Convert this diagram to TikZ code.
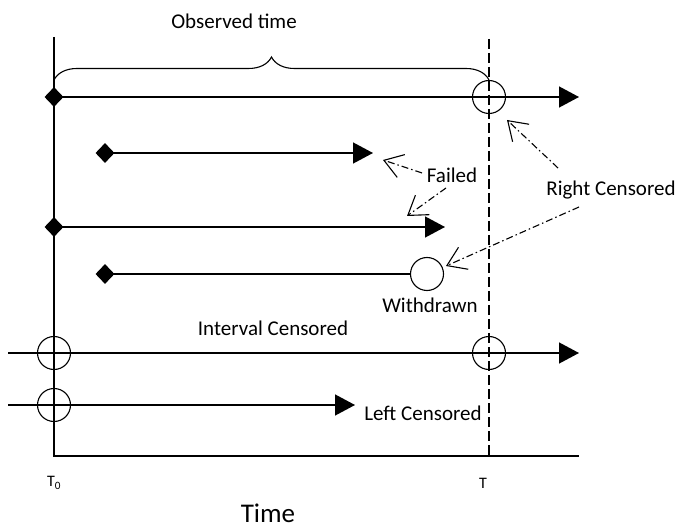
\documentclass[tikz,border=0pt]{standalone}
\usepackage{fontspec}
\setmainfont{Carlito}
\usetikzlibrary{arrows.meta,decorations.pathreplacing,shapes.geometric}
\begin{document}
\begin{tikzpicture}[x=1pt,y=-1pt,
  dia/.style={diamond,fill=black,inner sep=0pt,minimum width=19pt,minimum height=20pt},
  ring/.style={circle,draw,line width=1.1pt,minimum size=33pt,inner sep=0pt},
  lifeline/.style={line width=1.4pt,-{Triangle[length=20pt,width=21pt]}},
  axisline/.style={line width=1.3pt},
  lbl/.style={font=\fontsize{21}{25}\selectfont,inner sep=0pt},
  small/.style={font=\fontsize{16}{19}\selectfont,inner sep=0pt},
  callout/.style={line width=1.1pt,dash pattern=on 7pt off 3pt on 1.5pt off 3pt,
    -{Straight Barb[length=18pt,width=24pt,line width=1.1pt]}},
]
\useasboundingbox (0,0) rectangle (680,529);

% axes
\coordinate (atop) at (54,37);
\coordinate (aorig) at (54,456);
\coordinate (aend) at (579,456);
\coordinate (dtop) at (489,39);
\coordinate (dbot) at (489,456);
\draw[axisline] (atop) -- (aorig) -- (aend);
\draw[line width=1.1pt,dash pattern=on 10pt off 4pt] (dtop) -- (dbot);

% brace
\coordinate (bl) at (54,80);
\coordinate (br) at (489,80);
\draw[line width=1.1pt,decorate,decoration={brace,amplitude=23pt}] (bl) -- (br);
\node[lbl] (obs) at (234,21) {Observed time};

% row 1
\node[dia] (d1) at (54,97) {};
\coordinate (e1) at (579,97);
\draw[lifeline] (d1.center) -- (e1);
\node[ring] (c1) at (489,97) {};

% row 2
\node[dia] (d2) at (105,153) {};
\coordinate (e2) at (373,153);
\draw[lifeline] (d2.center) -- (e2);

% row 3
\node[dia] (d3) at (54,227) {};
\coordinate (e3) at (445,227);
\draw[lifeline] (d3.center) -- (e3);

% row 4
\node[dia] (d4) at (105,274) {};
\node[ring] (c4) at (427,274) {};
\draw[line width=1.4pt] (d4.center) -- (c4.west);
\node[lbl] (wd) at (430,305) {Withdrawn};

% row 5
\node[lbl] (ic) at (273,328) {Interval Censored};
\coordinate (s5) at (8,353);
\coordinate (e5) at (579,353);
\draw[lifeline] (s5) -- (e5);
\node[ring] (c5a) at (54,353) {};
\node[ring] (c5b) at (489,353) {};

% row 6
\coordinate (s6) at (8,405);
\coordinate (e6) at (355,405);
\draw[lifeline] (s6) -- (e6);
\node[ring] (c6) at (54,405) {};
\node[lbl] (lc) at (423,413) {Left Censored};

% labels
\node[lbl] (failed) at (452,175) {Failed};
\node[lbl] (rc) at (611,190) {Right Censored};
\node[small] (t0) at (54,483) {T\textsubscript{0}};
\node[small] (tt) at (483,483) {T};
\node[font=\fontsize{27}{32}\selectfont,inner sep=0pt] (time) at (268,513) {Time};

% callouts
\coordinate (fa1s) at (422,173);
\coordinate (fa1e) at (383,160);
\coordinate (fa2s) at (446,188);
\coordinate (fa2e) at (407,216);
\coordinate (ra1s) at (558,168);
\coordinate (ra1e) at (507,120);
\coordinate (ra2s) at (579,207);
\coordinate (ra2e) at (446,266);
\draw[callout] (fa1s) -- (fa1e);
\draw[callout] (fa2s) -- (fa2e);
\draw[callout] (ra1s) -- (ra1e);
\draw[callout] (ra2s) -- (ra2e);
\end{tikzpicture}
\end{document}
